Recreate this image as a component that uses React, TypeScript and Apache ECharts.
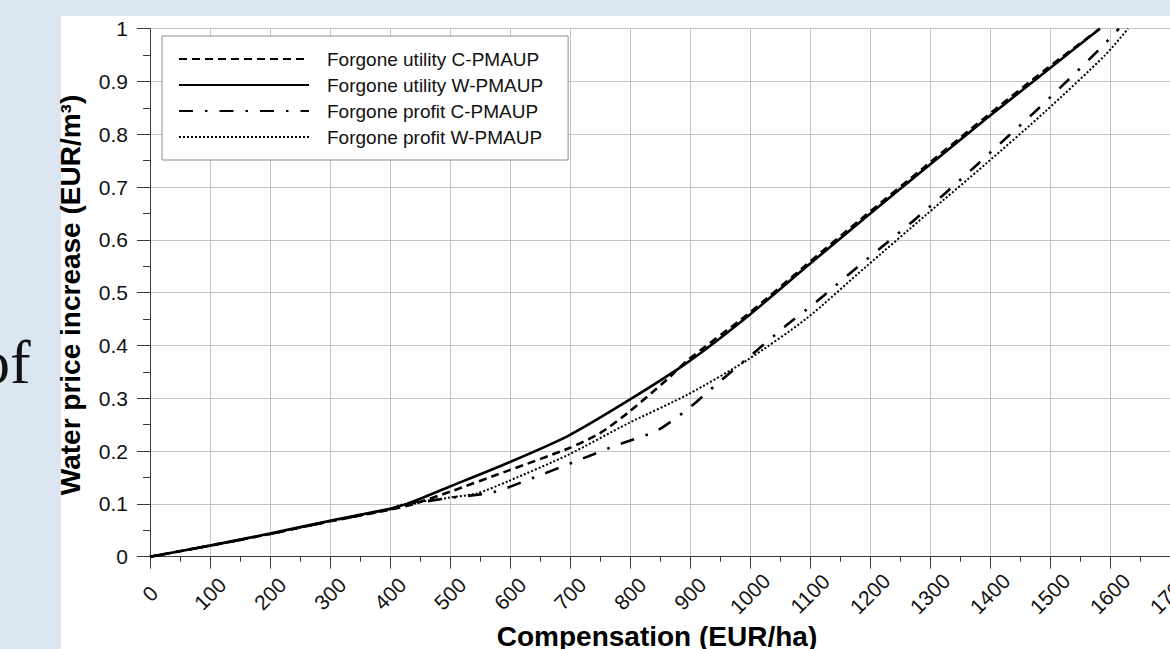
import React, { useEffect, useRef } from "react";
import * as echarts from "echarts";

const FONT = '"Liberation Sans", Arial, Helvetica, sans-serif';

const legendNames = [
  "Forgone utility C-PMAUP",
  "Forgone utility W-PMAUP",
  "Forgone profit C-PMAUP",
  "Forgone profit W-PMAUP",
];

// Forgone utility W-PMAUP (solid)
const utilityWX = [0, 100, 200, 300, 400, 428, 500, 597, 697, 796, 896, 996, 1094, 1193, 1293, 1392, 1492, 1583];
const utilityWY = [0, 0.021, 0.044, 0.068, 0.091, 0.1, 0.133, 0.178, 0.229, 0.295, 0.368, 0.455, 0.549, 0.643, 0.736, 0.828, 0.918, 1.0];

// Forgone utility C-PMAUP (dashed)
const utilityCX = [0, 100, 200, 300, 400, 440, 500, 597, 697, 750, 796, 844, 867, 896, 996, 1094, 1193, 1293, 1392, 1492, 1583];
const utilityCY = [0, 0.021, 0.043, 0.067, 0.089, 0.1, 0.123, 0.163, 0.205, 0.234, 0.272, 0.318, 0.341, 0.372, 0.459, 0.553, 0.647, 0.74, 0.832, 0.922, 1.0];

// Forgone profit C-PMAUP (dash-dot)
const profitCX = [0, 100, 200, 300, 400, 420, 497, 572, 640, 708, 775, 842, 871, 900, 925, 953, 1000, 1058, 1114, 1167, 1219, 1272, 1325, 1378, 1428, 1479, 1529, 1578, 1615];
const profitCY = [0, 0.021, 0.043, 0.067, 0.09, 0.097, 0.111, 0.122, 0.15, 0.18, 0.21, 0.237, 0.258, 0.283, 0.3075, 0.335, 0.38, 0.4356, 0.486, 0.537, 0.586, 0.636, 0.688, 0.742, 0.794, 0.847, 0.9015, 0.956, 1.0];

// Forgone profit W-PMAUP (dotted)
const profitWX = [0, 100, 200, 300, 400, 417, 497, 545, 597, 697, 796, 896, 996, 1094, 1193, 1293, 1393, 1492, 1592, 1630];
const profitWY = [0, 0.021, 0.043, 0.067, 0.09, 0.098, 0.1115, 0.12, 0.143, 0.193, 0.252, 0.307, 0.373, 0.451, 0.549, 0.647, 0.744, 0.843, 0.95, 1.0];

const xAxisTitle = "Compensation (EUR/ha)";
const yAxisTitle = "Water price increase (EUR/m³)";

const zip = (xs: number[], ys: number[]) => xs.map((x, i) => [x, ys[i]]);

export default function App() {
  const ref = useRef<HTMLDivElement>(null);

  useEffect(() => {
    if (!ref.current) return;
    const chart = echarts.init(ref.current, null, { renderer: "svg" });
    const axisColor = "#3a3a3a";
    const gridColor = "#c4c4c4";
    const lineBase = {
      type: "line",
      symbol: "none",
      showSymbol: false,
      smooth: 0.25,
      color: "#000",
      silent: true,
    };
    chart.setOption({
      animation: false,
      backgroundColor: "transparent",
      grid: {
        left: 150,
        top: 28.7,
        right: 0,
        bottom: 92.3,
        containLabel: false,
        outerBoundsMode: "none",
      },
      xAxis: {
        type: "value",
        min: 0,
        max: 1700,
        interval: 100,
        axisLine: { show: true, lineStyle: { color: axisColor, width: 1 } },
        axisTick: { show: true, length: 12, lineStyle: { color: axisColor } },
        minorTick: { show: true, splitNumber: 2, length: 5, lineStyle: { color: axisColor } },
        splitLine: { show: true, lineStyle: { color: gridColor, width: 1 } },
        minorSplitLine: { show: false },
        axisLabel: {
          rotate: 45,
          align: "center",
          verticalAlign: "middle",
          margin: 37,
          fontSize: 21,
          fontFamily: FONT,
          color: "#111",
          showMinLabel: true,
          showMaxLabel: true,
          hideOverlap: false,
          formatter: (v: number) => String(Math.round(v)),
        },
      },
      yAxis: {
        type: "value",
        min: 0,
        max: 1,
        interval: 0.1,
        axisLine: { show: true, lineStyle: { color: axisColor, width: 1 } },
        axisTick: { show: true, length: 13, lineStyle: { color: axisColor } },
        minorTick: { show: true, splitNumber: 2, length: 7, lineStyle: { color: axisColor } },
        splitLine: { show: true, lineStyle: { color: gridColor, width: 1 } },
        axisLabel: {
          margin: 22,
          fontSize: 21,
          fontFamily: FONT,
          color: "#111",
          formatter: (v: number) => String(Math.round(v * 10) / 10),
        },
      },
      legend: {
        data: legendNames,
        orient: "vertical",
        left: 162,
        top: 36,
        padding: [13, 25, 13, 16],
        itemWidth: 130,
        itemHeight: 20,
        itemGap: 6,
        backgroundColor: "#fff",
        borderColor: "#8c8c8c",
        borderWidth: 1,
        borderRadius: 0,
        selectedMode: false,
        itemStyle: { opacity: 0 },
        textStyle: {
          fontFamily: FONT,
          fontSize: 19,
          color: "#111",
          lineHeight: 20,
          padding: [0, 0, 0, 13],
        },
      },
      graphic: [
        {
          type: "text",
          x: 657,
          y: 636,
          silent: true,
          style: {
            text: xAxisTitle,
            fontSize: 28,
            fontWeight: "bold",
            fontFamily: FONT,
            fill: "#000",
            align: "center",
            textAlign: "center",
            verticalAlign: "middle",
            textVerticalAlign: "middle",
          },
        },
        {
          type: "text",
          x: 70,
          y: 295,
          rotation: Math.PI / 2,
          silent: true,
          style: {
            text: yAxisTitle,
            fontSize: 28,
            fontWeight: "bold",
            fontFamily: FONT,
            fill: "#000",
            align: "center",
            textAlign: "center",
            verticalAlign: "middle",
            textVerticalAlign: "middle",
          },
        },
        {
          type: "text",
          x: -21,
          y: 362,
          silent: true,
          style: {
            text: "of",
            fontSize: 62,
            fontFamily: '"Liberation Serif", "Times New Roman", serif',
            fill: "#111",
            align: "left",
            textAlign: "left",
            verticalAlign: "middle",
            textVerticalAlign: "middle",
          },
        },
      ],
      series: [
        {
          ...lineBase,
          name: legendNames[1],
          data: zip(utilityWX, utilityWY),
          z: 2,
          lineStyle: { color: "#000", width: 2.6, type: "solid" },
        },
        {
          ...lineBase,
          name: legendNames[0],
          data: zip(utilityCX, utilityCY),
          z: 3,
          lineStyle: { color: "#000", width: 2.6, type: [8, 5] },
        },
        {
          ...lineBase,
          name: legendNames[2],
          data: zip(profitCX, profitCY),
          z: 3,
          lineStyle: { color: "#000", width: 2.6, type: [14, 12, 2.5, 12] },
        },
        {
          ...lineBase,
          name: legendNames[3],
          data: zip(profitWX, profitWY),
          z: 3,
          lineStyle: { color: "#000", width: 2, type: [2, 2] },
        },
      ],
    });
    return () => chart.dispose();
  }, []);

  return (
    <div
      style={{
        position: "fixed",
        left: 0,
        top: 0,
        width: 1170,
        height: 649,
        background: "#dce6f2",
        overflow: "hidden",
      }}
    >
      <div
        style={{
          position: "absolute",
          left: 61,
          top: 16,
          width: 1109,
          height: 633,
          background: "#ffffff",
        }}
      />
      <div
        ref={ref}
        style={{ position: "absolute", left: 0, top: 0, width: 1170, height: 649 }}
      />
    </div>
  );
}
